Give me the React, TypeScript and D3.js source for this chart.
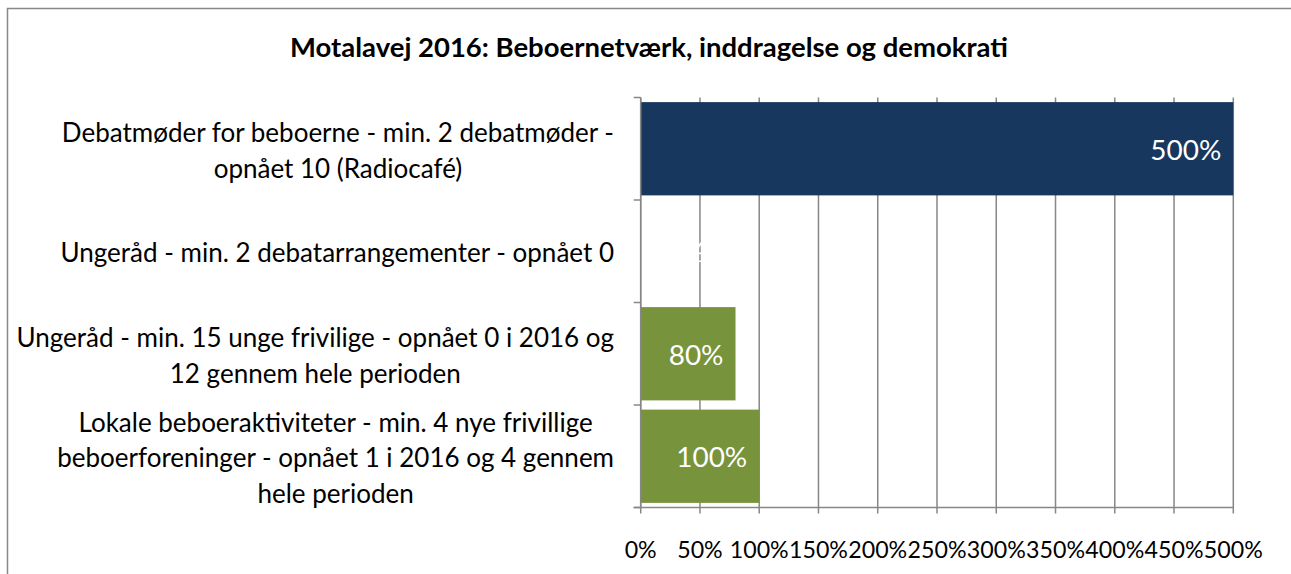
import React, { useEffect, useRef } from "react";
import * as d3 from "d3";

const TITLE = "Motalavej 2016: Beboernetværk, inddragelse og demokrati";
const categoryLines: string[][] = [
  ["Debatmøder for beboerne - min. 2 debatmøder -", "opnået 10 (Radiocafé)"],
  ["Ungeråd - min. 2 debatarrangementer - opnået 0"],
  ["Ungeråd - min. 15 unge frivilige - opnået 0 i 2016 og", "12 gennem hele perioden"],
  ["Lokale beboeraktiviteter - min. 4 nye frivillige", "beboerforeninger - opnået 1 i 2016 og 4 gennem", "hele perioden"],
];
const values = [5.0, 0, 0.8, 1.0];
const tickValues = [0, 0.5, 1, 1.5, 2, 2.5, 3, 3.5, 4, 4.5, 5];

const BAR_COLORS = ["#17375E", "#77933C", "#77933C", "#77933C"];
const GRID = "#878787";
const FONT = "Lato, 'Open Sans', sans-serif";

const W = 1291;
const H = 574;

export default function App() {
  const ref = useRef<SVGSVGElement | null>(null);

  useEffect(() => {
    const svg = d3.select(ref.current);
    svg.selectAll("*").remove();

    const x = d3.scaleLinear().domain([0, 5]).range([640.7, 1233.3]);
    const y = d3
      .scaleBand<number>()
      .domain(values.map((_, i) => i))
      .range([97.5, 507.5])
      .paddingInner(0.09)
      .paddingOuter(0.045);
    const step = y.step();
    const top = 97.5;
    const bottom = 507.5;

    const fit = (sel: d3.Selection<SVGTextElement, any, any, any>, target: number, base: number) => {
      const node = sel.node() as SVGTextElement;
      const w = node.getComputedTextLength();
      return (base * target) / w;
    };

    // frame
    svg
      .append("rect")
      .attr("x", 7.5)
      .attr("y", 8.5)
      .attr("width", 1320)
      .attr("height", 620)
      .attr("fill", "#fff")
      .attr("stroke", GRID)
      .attr("stroke-width", 1.5);

    // title
    const title = svg
      .append("text")
      .attr("font-family", FONT)
      .attr("font-weight", 700)
      .attr("font-size", 20)
      .attr("text-anchor", "middle")
      .attr("x", 649)
      .attr("y", 57)
      .attr("fill", "#000")
      .text(TITLE);
    title.attr("font-size", fit(title, 718, 20));

    // gridlines + x ticks
    svg
      .append("g")
      .selectAll("line")
      .data(tickValues)
      .join("line")
      .attr("x1", (d) => x(d))
      .attr("x2", (d) => x(d))
      .attr("y1", top)
      .attr("y2", bottom + 6)
      .attr("stroke", GRID)
      .attr("stroke-width", 1.5);

    // x axis baseline
    svg
      .append("line")
      .attr("x1", x(0) - 7)
      .attr("x2", x(5))
      .attr("y1", bottom)
      .attr("y2", bottom)
      .attr("stroke", GRID)
      .attr("stroke-width", 1.5);

    // y category ticks
    const bounds = d3.range(values.length + 1).map((i) => top + i * step);
    svg
      .append("g")
      .selectAll("line")
      .data(bounds)
      .join("line")
      .attr("x1", x(0) - 7)
      .attr("x2", x(0))
      .attr("y1", (d) => d)
      .attr("y2", (d) => d)
      .attr("stroke", GRID)
      .attr("stroke-width", 1.5);

    // bars
    svg
      .append("g")
      .selectAll("rect")
      .data(values)
      .join("rect")
      .attr("x", x(0))
      .attr("y", (_, i) => y(i)!)
      .attr("width", (d) => x(d) - x(0))
      .attr("height", y.bandwidth())
      .attr("fill", (_, i) => BAR_COLORS[i]);

    // tick labels
    const tickTexts = svg
      .append("g")
      .selectAll("text")
      .data(tickValues)
      .join("text")
      .attr("font-family", FONT)
      .attr("font-size", 20)
      .attr("text-anchor", "middle")
      .attr("dominant-baseline", "central")
      .attr("x", (d) => x(d))
      .attr("y", 549)
      .attr("fill", "#000")
      .text((d) => d3.format(".0%")(d));
    const tsize = fit(tickTexts.filter((_, i) => i === 2) as any, 59, 20);
    tickTexts.attr("font-size", tsize);

    // vertical axis line
    svg
      .append("line")
      .attr("x1", x(0))
      .attr("x2", x(0))
      .attr("y1", top)
      .attr("y2", bottom)
      .attr("stroke", GRID)
      .attr("stroke-width", 1.5);

    // data labels
    const lab = svg
      .append("g")
      .selectAll("text")
      .data(values)
      .join("text")
      .attr("font-family", FONT)
      .attr("font-size", 24)
      .attr("text-anchor", "end")
      .attr("dominant-baseline", "central")
      .attr("x", (d) => Math.max(x(d) - 12, x(0) + 65))
      .attr("y", (_, i) => y(i)! + y.bandwidth() / 2)
      .attr("fill", "#fff")
      .text((d) => d3.format(".0%")(d));
    const lsize = fit(lab.filter((_, i) => i === 0) as any, 71, 24);
    lab.attr("font-size", lsize);

    // category labels
    const catG = svg.append("g");
    const probeLines = [categoryLines[0][0], categoryLines[1][0], categoryLines[2][0], categoryLines[3][1]];
    let probeW = 0;
    probeLines.forEach((ln) => {
      const p = catG.append("text").attr("font-family", FONT).attr("font-size", 20).text(ln);
      probeW += (p.node() as SVGTextElement).getComputedTextLength();
      p.remove();
    });
    const csize = (20 * (552 + 565 + 592 + 552)) / probeW;
    const lineH = 35.5;
    categoryLines.forEach((lines, i) => {
      const cy = top + (i + 0.5) * step;
      const t = catG
        .append("text")
        .attr("font-family", FONT)
        .attr("font-size", csize)
        .attr("text-anchor", "middle")
        .attr("fill", "#000");
      const spans = lines.map((ln, j) =>
        t
          .append("tspan")
          .attr("dominant-baseline", "central")
          .attr("y", cy + (j - (lines.length - 1) / 2) * lineH + 1)
          .text(ln)
      );
      const maxW = d3.max(spans, (s) => (s.node() as SVGTSpanElement).getComputedTextLength()) || 0;
      const cx = 614 - maxW / 2;
      spans.forEach((s) => s.attr("x", cx));
    });
  }, []);

  return (
    <svg
      ref={ref}
      width={W}
      height={H}
      style={{ position: "absolute", left: 0, top: 0, display: "block" }}
    />
  );
}
